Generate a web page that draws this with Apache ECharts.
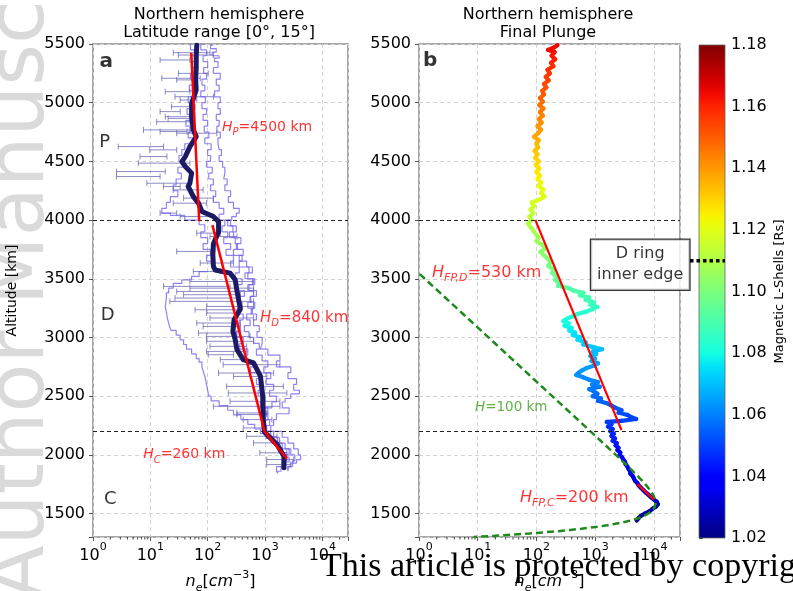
<!DOCTYPE html>
<html>
<head>
<meta charset="utf-8">
<script src="https://cdn.jsdelivr.net/npm/echarts@6/dist/echarts.min.js"></script>
<style>
html,body{margin:0;padding:0;background:#fff;}
#chart{width:793px;height:591px;}
</style>
</head>
<body>
<div id="chart"></div>
<script>
// ---------------- axis ranges ----------------
const ALT_MIN = 1300, ALT_MAX = 5500;
const NE_MIN = 1, NE_MAX = 28000;
const L_MIN = 1.02, L_MAX = 1.18;
const regionBounds = [4000, 2200];          // P/D and D/C boundaries [km]
const dRingInnerL = 1.11;                   // D ring inner edge [Rs]
const minorTickValues = [2,3,4,5,6,7,8,9,20,30,40,50,60,70,80,90,200,300,400,500,600,700,800,900,
                         2000,3000,4000,5000,6000,7000,8000,9000,20000];

// ---------------- panel a: latitude range [0°, 15°] ----------------
// median profile: [altitude km, log10 ne]
const medianProfile = [
  [5490,1.81],[5400,1.80],[5300,1.80],[5200,1.79],[5110,1.80],[5050,1.76],[4995,1.72],[4880,1.72],
  [4770,1.75],[4710,1.80],[4626,1.69],[4541,1.61],[4498,1.55],[4456,1.61],[4400,1.72],[4315,1.69],
  [4286,1.66],[4200,1.75],[4144,1.84],[4073,1.90],[4030,2.10],[3987,2.19],[3898,2.19],[3798,2.10],
  [3704,2.09],[3605,2.10],[3575,2.13],[3548,2.39],[3491,2.48],[3398,2.51],[3242,2.57],[3151,2.46],
  [3051,2.44],[2981,2.48],[2896,2.51],[2811,2.62],[2783,2.80],[2670,2.92],[2498,2.96],[2300,2.97],
  [2195,2.99],[2087,3.21],[1988,3.33],[1889,3.33]
];

// individual passes: [altitude km, log10 ne]
const passA = [
  [5490,2.10],[5460,2.05],[5430,2.15],[5400,2.08],[5380,2.20],[5350,2.12],[5300,2.18],[5250,2.10],
  [5200,2.22],[5150,2.15],[5100,2.20],[5050,2.12],[5000,2.22],[4950,2.18],[4900,2.22],[4850,2.15],
  [4800,2.20],[4750,2.16],[4700,2.22],[4650,2.18],[4600,2.20],[4550,2.24],[4500,2.20],[4450,2.26],
  [4400,2.30],[4350,2.28],[4300,2.34],[4250,2.30],[4200,2.40],[4150,2.36],[4100,2.45],[4060,2.55],
  [4030,2.50],[4000,2.42],[3950,2.35],[3900,2.44],[3850,2.38],[3800,2.48],[3750,2.52],[3700,2.45],
  [3650,2.60],[3600,2.55],[3550,2.72],[3500,2.65],[3450,2.78],[3400,2.70],[3350,2.80],[3300,2.74],
  [3250,2.82],[3200,2.76],[3150,2.85],[3100,2.80],[3050,2.90],[3000,2.86],[2950,2.95],[2900,2.92],
  [2850,3.05],[2800,3.26],[2750,3.20],[2700,3.45],[2650,3.40],[2600,3.55],[2550,3.50],[2520,3.60],
  [2480,3.45],[2450,3.35],[2400,3.30],[2350,3.42],[2300,3.20],[2250,3.15],[2200,3.10],[2150,3.30],
  [2100,3.40],[2050,3.50],[2000,3.58],[1960,3.62],[1930,3.55],[1900,3.45],[1870,3.40]
];
const passB = [
  [5500,1.95],[5450,1.88],[5400,1.98],[5350,1.92],[5300,2.00],[5250,1.93],[5200,1.98],[5150,1.90],
  [5100,1.95],[5050,1.88],[5000,1.96],[4950,1.90],[4900,1.98],[4850,1.92],[4800,2.00],[4750,1.94],
  [4700,2.02],[4650,1.95],[4600,2.06],[4550,2.00],[4500,2.05],[4450,1.98],[4400,2.08],[4350,2.02],
  [4300,2.10],[4250,2.05],[4200,2.14],[4150,2.10],[4100,2.20],[4050,2.28],[4000,2.20],[3950,2.30],
  [3900,2.25],[3850,2.35],[3800,2.28],[3750,2.40],[3700,2.32],[3650,2.45],[3600,2.40],[3550,2.55],
  [3500,2.48],[3450,2.60],[3400,2.52],[3350,2.64],[3300,2.55],[3250,2.60],[3200,2.52],[3150,2.62],
  [3100,2.55],[3050,2.58],[3000,2.50],[2950,2.62],[2900,2.56],[2850,2.70],[2800,2.65],[2750,2.80],
  [2700,2.75],[2650,2.90],[2600,2.85],[2550,2.95],[2500,2.88],[2450,3.00],[2400,2.92],[2350,3.05],
  [2300,2.98],[2250,3.08],[2200,3.02],[2150,3.15],[2100,3.25],[2050,3.35],[2000,3.42],[1950,3.38],
  [1900,3.30],[1850,3.20]
];
const passC = [
  [5500,1.75],[5450,1.70],[5400,1.78],[5350,1.72],[5300,1.80],[5250,1.74],[5200,1.70],[5150,1.76],
  [5100,1.68],[5050,1.74],[5000,1.66],[4950,1.72],[4900,1.64],[4850,1.70],[4800,1.62],[4750,1.70],
  [4700,1.66],[4650,1.74],[4600,1.60],[4550,1.55],[4500,1.50],[4450,1.56],[4400,1.48],[4350,1.54],
  [4300,1.45],[4250,1.40],[4200,1.48],[4150,1.35],[4100,1.28],[4060,1.20],[4040,1.35],[4000,1.60],
  [3960,1.85],[3900,1.95],[3850,1.88],[3800,2.00],[3750,1.92],[3700,2.05],[3650,1.98],[3600,2.10]
];
const passD = [
  [3560,2.00],[3520,1.85],[3490,1.72],[3460,1.55],[3420,1.40],[3380,1.32],[3340,1.28],[3300,1.27],
  [3260,1.26],[3220,1.28],[3180,1.29],[3140,1.31],[3100,1.33],[3060,1.36],[3020,1.45],[2980,1.52],
  [2940,1.58],[2900,1.63],[2860,1.72],[2820,1.80],[2790,1.85],[2750,1.90],[2700,1.93],[2650,1.96],
  [2600,1.98],[2550,2.00],[2500,2.02],[2460,2.06],[2420,2.20],[2380,2.35],[2340,2.45],[2300,2.58],
  [2260,2.70],[2220,2.82],[2180,2.92],[2140,3.02],[2100,3.12],[2060,3.22],[2020,3.30],[1980,3.38],
  [1940,3.42],[1900,3.36],[1860,3.28],[1840,3.22]
];
const passE = [
  [4000,2.30],[3950,2.40],[3900,2.50],[3850,2.45],[3800,2.58],[3750,2.50],[3700,2.62],[3650,2.55],
  [3600,2.68],[3550,2.78],[3500,2.70],[3450,2.82],[3400,2.72],[3350,2.85],[3300,2.75],[3250,2.70],
  [3200,2.78],[3150,2.68],[3100,2.74],[3050,2.64],[3000,2.72],[2950,2.80],[2900,2.90],[2850,2.85],
  [2800,2.95],[2750,3.05],[2700,2.98],[2650,3.10],[2600,3.02],[2550,3.15],[2500,3.08],[2450,3.20],
  [2400,3.12],[2350,3.00],[2300,3.05],[2250,2.95],[2200,3.00],[2150,3.10],[2100,3.22],[2050,3.30],
  [2000,3.45],[1950,3.52],[1900,3.48],[1860,3.40]
];
const passes = [passA, passB, passC, passD, passE];

// error bars: [altitude km, log10 ne low, log10 ne high]
const errorBars = [
  [5426,1.40,2.04],[5406,1.49,2.10],[5364,1.17,1.69],[5250,1.49,2.01],[5208,1.20,1.87],[5194,1.46,1.81],
  [5094,1.26,1.69],[5051,1.43,2.10],[5023,1.52,1.81],[4966,1.37,1.78],[4924,1.17,1.52],[4881,1.26,1.75],
  [4866,1.31,1.69],[4838,1.11,1.69],[4768,0.88,1.69],[4754,1.17,1.64],[4740,1.46,2.16],[4626,0.44,1.23],
  [4598,0.99,1.46],[4541,0.82,1.29],[4485,0.79,1.69],[4413,0.41,1.26],[4371,0.41,1.17],[4314,0.94,1.69],
  [4286,1.23,1.52],[4257,1.40,1.92],[4187,1.58,2.10],[4144,1.40,1.98],[4059,1.17,1.46],[4030,1.52,2.10],
  [3889,1.81,2.22],[3860,2.04,2.51],[3733,1.46,2.10],[3634,1.87,2.45],[3562,1.75,2.22],[3477,1.69,2.80],
  [3435,1.23,2.39],[3420,1.69,2.80],[3392,1.46,2.80],[3364,1.58,2.57],[3336,1.43,2.51],[3307,1.34,2.80],
  [3264,1.98,2.80],[3236,1.78,2.57],[3208,1.98,2.51],[3166,2.04,2.80],[3123,1.81,2.57],[3094,1.92,2.57],
  [3038,1.84,2.51],[3009,1.98,2.74],[2967,1.98,2.80],[2924,2.04,2.68],[2881,1.98,2.68],[2853,2.01,2.45],
  [2811,2.22,2.68],[2768,2.27,3.26],[2697,2.19,3.15],[2668,2.45,3.03],[2583,2.33,3.32],[2527,2.36,3.38],
  [2456,2.39,3.26],[2413,2.10,3.26],[2357,2.51,3.03],[2343,2.51,3.03],[2300,2.62,3.12],[2229,2.62,3.03],
  [2158,2.68,3.21],[2102,2.80,3.26],[2017,2.91,3.38],[1960,3.03,3.50],[1917,3.03,3.44]
];

// exponential fits ne = ne0 * exp(-(h - h0) / H)
const fitsA = [
  { name: 'P', H: 4500, h0: 4000, ne0: 71,  top: 5426, bottom: 3990 },
  { name: 'D', H: 840,  h0: 2200, ne0: 980, top: 3957, bottom: 2200 },
  { name: 'C', H: 260,  h0: 2200, ne0: 980, top: 2200, bottom: 1966 }
];

// ---------------- panel b: final plunge ----------------
// [altitude km, log10 ne, L-shell Rs]
const plunge = [
  [5490,2.36,1.166],[5470,2.30,1.165],[5450,2.20,1.164],[5430,2.31,1.164],[5400,2.26,1.163],[5370,2.32,1.162],
  [5340,2.25,1.161],[5310,2.29,1.159],[5280,2.19,1.158],[5250,2.23,1.157],[5220,2.16,1.156],[5190,2.21,1.155],
  [5160,2.13,1.154],[5130,2.17,1.153],[5100,2.10,1.152],[5070,2.13,1.151],[5040,2.06,1.150],[5010,2.11,1.149],
  [4980,2.05,1.147],[4950,2.12,1.146],[4920,2.06,1.145],[4890,2.11,1.144],[4860,2.04,1.143],[4830,2.09,1.142],
  [4800,2.02,1.141],[4770,2.08,1.140],[4740,2.03,1.139],[4710,1.96,1.138],[4680,2.04,1.137],[4650,2.00,1.135],
  [4620,2.03,1.134],[4590,1.97,1.133],[4560,2.02,1.132],[4530,1.98,1.131],[4500,2.04,1.130],[4470,1.99,1.129],
  [4440,2.05,1.128],[4410,2.00,1.127],[4380,2.06,1.126],[4350,2.02,1.125],[4320,2.08,1.124],[4290,2.04,1.123],
  [4260,2.12,1.122],[4230,2.08,1.121],[4200,2.14,1.120],[4170,2.03,1.119],[4150,1.92,1.118],[4120,1.96,1.117],
  [4090,1.90,1.116],[4060,1.95,1.115],[4030,1.88,1.114],[4000,1.92,1.113],[3970,1.86,1.112],[3940,1.90,1.111],
  [3910,1.95,1.110],[3880,1.99,1.109],[3850,2.04,1.108],[3820,2.00,1.107],[3790,2.10,1.106],[3760,2.16,1.105],
  [3730,2.07,1.104],[3700,2.13,1.103],[3670,2.20,1.102],[3640,2.24,1.101],[3610,2.20,1.100],[3580,2.30,1.099],
  [3550,2.27,1.098],[3520,2.34,1.097],[3490,2.32,1.096],[3460,2.40,1.095],[3440,2.37,1.094],[3420,2.55,1.093],
  [3400,2.63,1.092],[3380,2.80,1.091],[3360,2.74,1.091],[3340,2.90,1.090],[3320,2.84,1.089],[3300,2.98,1.088],
  [3280,2.92,1.087],[3260,3.04,1.087],[3240,2.95,1.086],[3220,2.85,1.085],[3200,2.70,1.084],[3180,2.62,1.083],
  [3160,2.52,1.082],[3140,2.46,1.081],[3120,2.55,1.080],[3100,2.48,1.080],[3080,2.60,1.079],[3060,2.56,1.078],
  [3040,2.66,1.077],[3020,2.62,1.076],[3000,2.75,1.075],[2980,2.70,1.074],[2960,2.84,1.074],[2940,2.80,1.073],
  [2920,2.95,1.072],[2900,3.12,1.071],[2880,2.96,1.070],[2860,3.02,1.069],[2840,2.92,1.069],[2820,3.00,1.068],
  [2800,2.94,1.067],[2780,3.05,1.067],[2760,2.98,1.066],[2740,2.86,1.065],[2720,2.78,1.065],[2700,2.72,1.064],
  [2680,2.68,1.063],[2660,2.80,1.063],[2640,2.90,1.062],[2620,3.05,1.061],[2600,2.95,1.061],[2580,3.08,1.060],
  [2560,2.90,1.059],[2540,2.98,1.059],[2520,3.04,1.058],[2500,2.96,1.057],[2480,3.10,1.057],[2460,3.05,1.056],
  [2440,3.20,1.055],[2420,3.28,1.055],[2400,3.35,1.054],[2380,3.45,1.053],[2360,3.40,1.053],[2340,3.55,1.052],
  [2320,3.62,1.051],[2305,3.70,1.051],[2290,3.45,1.050],[2280,3.20,1.050],[2260,3.28,1.049],[2240,3.22,1.049],
  [2220,3.30,1.048],[2200,3.26,1.047],[2180,3.32,1.047],[2160,3.28,1.046],[2140,3.34,1.045],[2120,3.30,1.045],
  [2100,3.37,1.044],[2080,3.35,1.043],[2060,3.40,1.043],[2040,3.38,1.042],[2020,3.43,1.041],[2000,3.42,1.040],
  [1980,3.46,1.040],[1960,3.48,1.039],[1940,3.51,1.038],[1920,3.52,1.038],[1900,3.55,1.037],[1880,3.57,1.036],
  [1860,3.60,1.036],[1840,3.60,1.035],[1820,3.64,1.035],[1800,3.66,1.034],[1780,3.68,1.034],[1760,3.72,1.033],
  [1740,3.74,1.033],[1720,3.78,1.032],[1700,3.82,1.031],[1680,3.86,1.031],[1660,3.91,1.030],[1640,3.95,1.030],
  [1620,4.00,1.029],[1600,4.05,1.029],[1580,4.07,1.028],[1560,4.04,1.028],[1540,3.98,1.027],[1520,3.93,1.027],
  [1500,3.85,1.026],[1480,3.78,1.025],[1460,3.74,1.024],[1440,3.71,1.023]
];

const fitsB = [
  { name: 'FP,D', H: 530, h0: 2210, ne0: 2820,  top: 4000, bottom: 2210 },
  { name: 'FP,C', H: 200, h0: 1620, ne0: 10000, top: 1750, bottom: 1620 }
];

// Chapman layer model
const chapman = { H: 100, hPeak: 1590, nePeak: 10700, top: 3540, bottom: 1300 };

// ---------------- helpers ----------------
const FONT = 'DejaVu Sans';
const neOf = lg => Math.pow(10, lg);
const fitLine = f => [f.top, f.bottom].map(h => [f.ne0 * Math.exp(-(h - f.h0) / f.H), h]);

function chapmanCurve(c) {
  const pts = [];
  for (let h = c.top; h >= c.bottom; h -= 10) {
    const z = (h - c.hPeak) / c.H;
    pts.push([c.nePeak * Math.exp(0.5 * (1 - z - Math.exp(-z))), h]);
  }
  return pts;
}

// matplotlib "jet" colormap
const jetSeg = {
  r: [[0,0],[0.35,0],[0.66,1],[0.89,1],[1,0.5]],
  g: [[0,0],[0.125,0],[0.375,1],[0.64,1],[0.91,0],[1,0]],
  b: [[0,0.5],[0.11,1],[0.34,1],[0.65,0],[1,0]]
};
function segVal(pts, t) {
  for (let i = 1; i < pts.length; i++) {
    if (t <= pts[i][0]) {
      const [x0, y0] = pts[i - 1], [x1, y1] = pts[i];
      return y0 + (y1 - y0) * (t - x0) / (x1 - x0);
    }
  }
  return pts[pts.length - 1][1];
}
function jet(t) {
  t = Math.max(0, Math.min(1, t));
  const c = k => Math.round(255 * segVal(jetSeg[k], t));
  return `rgb(${c('r')},${c('g')},${c('b')})`;
}
const lNorm = L => (L - L_MIN) / (L_MAX - L_MIN);

// ---------------- shared axis styles ----------------
const SPINE = '#8a8a8a';
const GRIDLINE = { show: true, lineStyle: { color: '#d4d4d4', type: [4, 3], width: 1 } };
const tickRich = {
  b: { fontSize: 16, fontFamily: FONT, color: '#000', lineHeight: 22, verticalAlign: 'bottom' },
  s: { fontSize: 11, fontFamily: FONT, color: '#000', lineHeight: 22, verticalAlign: 'top' }
};
const neNameRich = {
  i: { fontSize: 16, fontFamily: FONT, fontStyle: 'italic', color: '#000', lineHeight: 24, verticalAlign: 'middle' },
  r: { fontSize: 16, fontFamily: FONT, color: '#000', lineHeight: 24, verticalAlign: 'middle' },
  sub: { fontSize: 11, fontFamily: FONT, fontStyle: 'italic', color: '#000', lineHeight: 24, verticalAlign: 'bottom' },
  sup: { fontSize: 11, fontFamily: FONT, color: '#000', lineHeight: 24, verticalAlign: 'top' }
};

function neAxis(gridIndex) {
  return {
    type: 'log', logBase: 10, gridIndex, min: NE_MIN, max: NE_MAX,
    axisLine: { show: false },
    axisTick: { show: true, length: 4, lineStyle: { color: '#555' } },
    splitLine: GRIDLINE,
    axisLabel: {
      margin: 5,
      formatter: v => {
        const e = Math.log10(v);
        if (Math.abs(e - Math.round(e)) > 1e-6) return '';
        return '{b|10}{s|' + Math.round(e) + '}';
      },
      rich: tickRich
    },
    name: '{i|n}{sub|e}{r|[}{i|cm}{sup|−3}{r|]}',
    nameLocation: 'middle', nameGap: 33,
    nameTextStyle: { rich: neNameRich }
  };
}
function altAxis(gridIndex, withName) {
  return {
    type: 'value', gridIndex, min: ALT_MIN, max: ALT_MAX,
    minInterval: 500, maxInterval: 500, splitNumber: 8,
    axisLine: { show: false },
    axisTick: { show: true, length: 4, lineStyle: { color: '#555' } },
    splitLine: GRIDLINE,
    axisLabel: {
      margin: 8, fontSize: 16, fontFamily: FONT, color: '#000',
      formatter: v => (v % 500 === 0 ? String(v) : '')
    },
    name: withName ? 'Altitude [km]' : '',
    nameLocation: 'middle', nameGap: 74, nameRotate: 90,
    nameTextStyle: { fontSize: 14, fontFamily: FONT, color: '#000' }
  };
}

// ---------------- series builders ----------------
function boundaryLines() {
  return {
    silent: true, symbol: 'none', label: { show: false },
    lineStyle: { color: '#222', type: [4, 3], width: 1 },
    data: regionBounds.map(v => ({ yAxis: v }))
  };
}
function minorTicks(axisIndex) {
  return {
    type: 'custom', xAxisIndex: axisIndex, yAxisIndex: axisIndex, clip: false, silent: true,
    data: minorTickValues.map(v => [v, ALT_MIN]),
    encode: { x: 0, y: 1 },
    renderItem: (params, api) => {
      const p = api.coord([api.value(0), api.value(1)]);
      return { type: 'line', shape: { x1: p[0], y1: p[1], x2: p[0], y2: p[1] + 2.5 },
               style: { stroke: '#444', lineWidth: 1 } };
    }
  };
}
function textMarks(axisIndex, items) {
  return {
    type: 'scatter', xAxisIndex: axisIndex, yAxisIndex: axisIndex, silent: true,
    symbolSize: 0, z: 10,
    data: items.map(it => ({ value: [it.ne, it.alt], label: it.label }))
  };
}
const hLabel = (sub, rest, color, size) => ({
  show: true, position: 'right', distance: 0,
  formatter: '{i|H}' + (sub ? '{s|' + sub + '}' : '') + '{n|' + rest + '}',
  rich: {
    i: { fontSize: size, fontFamily: FONT, fontStyle: 'italic', color, lineHeight: 22, verticalAlign: 'middle' },
    s: { fontSize: Math.round(size * 0.68), fontFamily: FONT, fontStyle: 'italic', color, lineHeight: 22, verticalAlign: 'bottom' },
    n: { fontSize: size, fontFamily: FONT, color, lineHeight: 22, verticalAlign: 'middle' }
  }
});
const plainLabel = (text, size, bold) => ({
  show: true, position: 'inside', formatter: text,
  fontSize: size, fontFamily: FONT, color: '#000', fontWeight: bold ? 'bold' : 'normal'
});

const series = [];

// panel a
series.push({
  type: 'custom', xAxisIndex: 0, yAxisIndex: 0, silent: true, z: 2,
  data: errorBars.map(r => [r[0], neOf(r[1]), neOf(r[2])]),
  encode: { x: [1, 2], y: 0 },
  renderItem: (params, api) => {
    const h = api.value(0);
    const a = api.coord([api.value(1), h]), b = api.coord([api.value(2), h]);
    const st = { stroke: 'rgba(96,96,176,0.72)', lineWidth: 1 };
    return { type: 'group', children: [
      { type: 'line', shape: { x1: a[0], y1: a[1], x2: b[0], y2: b[1] }, style: st },
      { type: 'line', shape: { x1: a[0], y1: a[1] - 3, x2: a[0], y2: a[1] + 3 }, style: st },
      { type: 'line', shape: { x1: b[0], y1: b[1] - 3, x2: b[0], y2: b[1] + 3 }, style: st }
    ] };
  }
});
passes.forEach(p => series.push({
  type: 'line', xAxisIndex: 0, yAxisIndex: 0, silent: true, z: 3,
  data: p.map(r => [neOf(r[1]), r[0]]), step: 'end', symbol: 'none',
  lineStyle: { color: 'rgba(112,96,236,0.78)', width: 1.2 }
}));
series.push({
  type: 'line', xAxisIndex: 0, yAxisIndex: 0, silent: true, z: 4,
  data: medianProfile.map(r => [neOf(r[1]), r[0]]), symbol: 'none',
  lineStyle: { color: '#1b1a62', width: 5, join: 'round', cap: 'round' },
  markLine: boundaryLines()
});
fitsA.forEach(f => series.push({
  type: 'line', xAxisIndex: 0, yAxisIndex: 0, silent: true, z: 5,
  data: fitLine(f), symbol: 'none', lineStyle: { color: '#ff0000', width: 2.5 }
}));
series.push(minorTicks(0));
series.push(textMarks(0, [
  { ne: 1.7, alt: 5347, label: plainLabel('a', 20, true) },
  { ne: 1.6, alt: 4666, label: plainLabel('P', 18) },
  { ne: 1.8, alt: 3185, label: plainLabel('D', 18) },
  { ne: 2.0, alt: 1619, label: plainLabel('C', 18) },
  { ne: 178, alt: 4794, label: hLabel('P', '=' + fitsA[0].H + ' km', '#ff0000', 14) },
  { ne: 820, alt: 3168, label: hLabel('D', '=' + fitsA[1].H + ' km', '#ff0000', 15) },
  { ne: 7.5, alt: 2002, label: hLabel('C', '=' + fitsA[2].H + ' km', '#ff0000', 14) }
]));

// panel b
const plungeSegments = plunge.slice(1).map((r, i) =>
  [neOf(r[1]), r[0], r[2], neOf(plunge[i][1]), plunge[i][0]]);
series.push({
  type: 'custom', xAxisIndex: 1, yAxisIndex: 1, silent: true, z: 3,
  data: plungeSegments, encode: { x: 0, y: 1 },
  renderItem: (params, api) => {
    const a = api.coord([api.value(3), api.value(4)]);
    const b = api.coord([api.value(0), api.value(1)]);
    return { type: 'line', shape: { x1: a[0], y1: a[1], x2: b[0], y2: b[1] },
             style: { stroke: jet(lNorm(api.value(2))), lineWidth: 4.2, lineCap: 'round' } };
  }
});
series.push({
  type: 'line', xAxisIndex: 1, yAxisIndex: 1, silent: true, z: 4,
  data: chapmanCurve(chapman), symbol: 'none',
  lineStyle: { color: '#1e8a1e', width: 2.5, type: [7, 4] }
});
fitsB.forEach((f, i) => series.push({
  type: 'line', xAxisIndex: 1, yAxisIndex: 1, silent: true, z: 5,
  data: fitLine(f), symbol: 'none', lineStyle: { color: '#ff0000', width: 2.2 },
  markLine: i === 0 ? boundaryLines() : undefined
}));
series.push(minorTicks(1));
series.push(textMarks(1, [
  { ne: 1.55, alt: 5355, label: plainLabel('b', 20, true) },
  { ne: 1.67, alt: 3551, label: hLabel('FP,D', '=' + fitsB[0].H + ' km', '#ff0000', 16) },
  { ne: 52.6, alt: 1636, label: hLabel('FP,C', '=' + fitsB[1].H + ' km', '#ff0000', 16) },
  { ne: 9, alt: 2402, label: hLabel('', '=' + chapman.H + ' km', '#3f9a1c', 13.5) },
  { ne: 5880, alt: 3619, label: {
      show: true, position: 'inside', formatter: 'D ring\ninner edge',
      fontSize: 16, fontFamily: FONT, color: '#000', lineHeight: 21, align: 'center',
      backgroundColor: '#fff', borderColor: '#000', borderWidth: 1.3, padding: [4, 6, 4, 6]
  } }
]));

// colour bar
const cbStops = [];
for (let i = 0; i <= 40; i++) cbStops.push({ offset: i / 40, color: jet(i / 40) });
series.push({
  type: 'custom', xAxisIndex: 2, yAxisIndex: 2, silent: true,
  data: [[0, L_MIN, 1, L_MAX]], encode: { x: [0, 2], y: [1, 3] },
  renderItem: (params, api) => {
    const lo = api.coord([api.value(0), api.value(1)]);
    const hi = api.coord([api.value(2), api.value(3)]);
    return { type: 'rect',
      shape: { x: lo[0], y: hi[1], width: hi[0] - lo[0], height: lo[1] - hi[1] },
      style: { fill: new echarts.graphic.LinearGradient(0, 1, 0, 0, cbStops), stroke: '#666', lineWidth: 0.8 } };
  }
});
series.push({
  type: 'custom', xAxisIndex: 2, yAxisIndex: 2, silent: true, clip: false, z: 5,
  data: [[0, dRingInnerL, 1]], encode: { x: [0, 2], y: 1 },
  renderItem: (params, api) => {
    const a = api.coord([api.value(0), api.value(1)]);
    const b = api.coord([api.value(2), api.value(1)]);
    return { type: 'line', shape: { x1: a[0] - 9, y1: a[1], x2: b[0], y2: b[1] },
             style: { stroke: '#000', lineWidth: 3.5, lineDash: [3.5, 3] } };
  }
});

// ---------------- chart ----------------
const chart = echarts.init(document.getElementById('chart'), null, { renderer: 'canvas' });
chart.setOption({
  animation: false,
  backgroundColor: '#fff',
  grid: [
    { left: 93,  top: 44, width: 255, height: 493, show: true, borderColor: SPINE, borderWidth: 1.5, backgroundColor: 'transparent', outerBoundsMode: 'none' },
    { left: 419, top: 44, width: 261, height: 493, show: true, borderColor: SPINE, borderWidth: 1.5, backgroundColor: 'transparent', outerBoundsMode: 'none' },
    { left: 699, top: 45, width: 26,  height: 493, show: false, outerBoundsMode: 'none' }
  ],
  xAxis: [
    neAxis(0), neAxis(1),
    { type: 'value', gridIndex: 2, min: 0, max: 1, show: false }
  ],
  yAxis: [
    altAxis(0, true), altAxis(1, false),
    {
      type: 'value', gridIndex: 2, position: 'right', min: L_MIN, max: L_MAX, interval: 0.02,
      axisLine: { show: false }, splitLine: { show: false },
      axisTick: { show: true, length: 4, lineStyle: { color: '#444' } },
      axisLabel: { margin: 6, fontSize: 16, fontFamily: FONT, color: '#000', formatter: v => v.toFixed(2) },
      name: 'Magnetic L-Shells [Rs]', nameLocation: 'middle', nameRotate: 90, nameGap: 48,
      nameTextStyle: { fontSize: 13, fontFamily: FONT, color: '#000' }
    }
  ],
  graphic: [
    { type: 'text', z: -10, x: 62, y: 600, rotation: Math.PI / 2,
      style: { text: 'Author Manuscript', font: '80px "DejaVu Sans"', fill: '#dadada',
               textAlign: 'left', textVerticalAlign: 'bottom' } },
    { type: 'text', x: 219, y: 6,
      style: { text: 'Northern hemisphere\nLatitude range [0°, 15°]', font: '16px "DejaVu Sans"',
               fill: '#000', textAlign: 'center', lineHeight: 18 } },
    { type: 'text', x: 548, y: 6,
      style: { text: 'Northern hemisphere\nFinal Plunge', font: '16px "DejaVu Sans"',
               fill: '#000', textAlign: 'center', lineHeight: 18 } },
    { type: 'text', z: 100, x: 321, y: 550,
      style: { text: 'This article is protected by copyright. All rights reserved.',
               font: '34px "Liberation Serif"', fill: '#000', textAlign: 'left', textVerticalAlign: 'alphabetic' } }
  ],
  series
});
</script>
</body>
</html>
